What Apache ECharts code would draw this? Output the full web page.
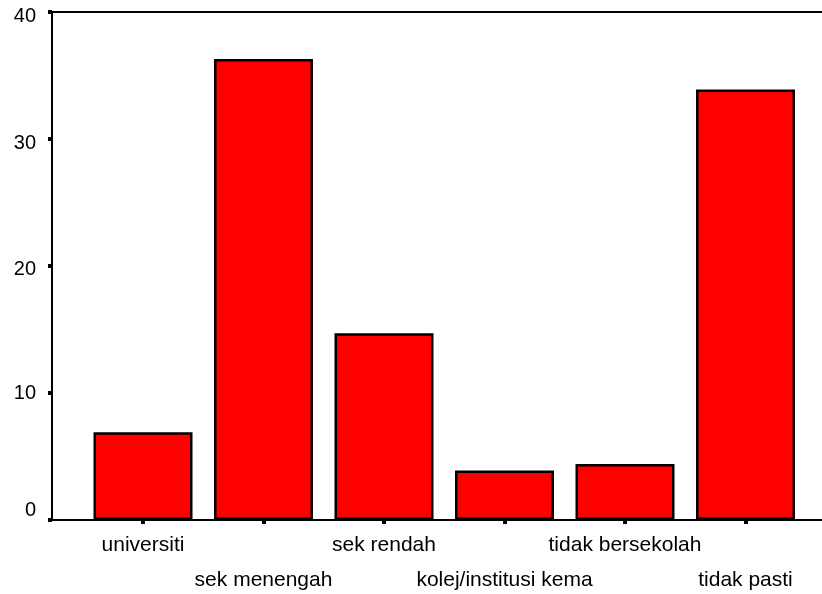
<!DOCTYPE html>
<html>
<head>
<meta charset="utf-8">
<script src="https://cdn.jsdelivr.net/npm/echarts@6/dist/echarts.min.js"></script>
<style>
html,body{margin:0;padding:0;background:#fff;}
#c{width:822px;height:594px;}
</style>
</head>
<body>
<div id="c"></div>
<script>
const categories = ['universiti','sek menengah','sek rendah','kolej/institusi kema','tidak bersekolah','tidak pasti'];
const values = [6.9, 36.3, 14.7, 3.9, 4.4, 33.9];
const yMin = 0, yMax = 40, yStep = 10;
const yTickLabels = ['0', '10', '20', '30', '40'];

const font = "'Liberation Sans', Arial, sans-serif";
const chart = echarts.init(document.getElementById('c'), null, {renderer:'canvas'});
chart.setOption({
  animation: false,
  backgroundColor: '#fff',
  grid: [
    {left: 52, top: 12, right: -40, height: 508, outerBoundsMode: 'none', containLabel: false},
    {left: 82.75, top: 12, width: 723, height: 508, outerBoundsMode: 'none', containLabel: false}
  ],
  xAxis: [
    {gridIndex: 0, type: 'value', min: 0, max: 1, position: 'bottom',
     axisLine: {show: true, onZero: false, lineStyle: {color: '#000', width: 2}},
     axisTick: {show: false}, axisLabel: {show: false}, splitLine: {show: false}},
    {gridIndex: 0, type: 'value', min: 0, max: 1, position: 'top',
     axisLine: {show: true, onZero: false, lineStyle: {color: '#000', width: 2}},
     axisTick: {show: false}, axisLabel: {show: false}, splitLine: {show: false}},
    {gridIndex: 1, type: 'category', data: categories,
     axisLine: {show: false},
     axisTick: {show: true, alignWithLabel: true, length: 4, lineStyle: {color: '#000', width: 4}},
     axisLabel: {color: '#000', fontFamily: font, fontSize: 21, lineHeight: 35, margin: 8, interval: 0,
       formatter: function(v, i){ return i % 2 ? '\n' + v : v; }}
    }
  ],
  yAxis: [
    {gridIndex: 0, type: 'value', min: yMin, max: yMax, interval: yStep,
     axisLine: {show: true, lineStyle: {color: '#000', width: 2}},
     axisTick: {show: true, length: 4, lineStyle: {color: '#000', width: 4}},
     splitLine: {show: false},
     axisLabel: {color: '#000', fontFamily: font, fontSize: 20, margin: 16,
       formatter: function(v){
         const s = yTickLabels[Math.round(v / yStep)];
         if (v === 0) return '{z|' + s + '}';
         if (v === 10) return '{a|' + s + '}';
         if (v === 20) return '{b|' + s + '}';
         return '{c|' + s + '}';
       },
       rich: {
         z: {fontFamily: font, fontSize: 20, color: '#000', padding: [0, 0, 20, 0]},
         a: {fontFamily: font, fontSize: 20, color: '#000'},
         b: {fontFamily: font, fontSize: 20, color: '#000', padding: [6, 0, 0, 0]},
         c: {fontFamily: font, fontSize: 20, color: '#000', padding: [9, 0, 0, 0]}
       }
     }
    },
    {gridIndex: 1, type: 'value', min: yMin, max: yMax, show: false, splitLine: {show: false}}
  ],
  series: [{
    type: 'bar', xAxisIndex: 2, yAxisIndex: 1, data: values, barWidth: 99,
    itemStyle: {color: '#ff0000', borderColor: '#000', borderWidth: 2.5}
  }]
});
</script>
</body>
</html>
